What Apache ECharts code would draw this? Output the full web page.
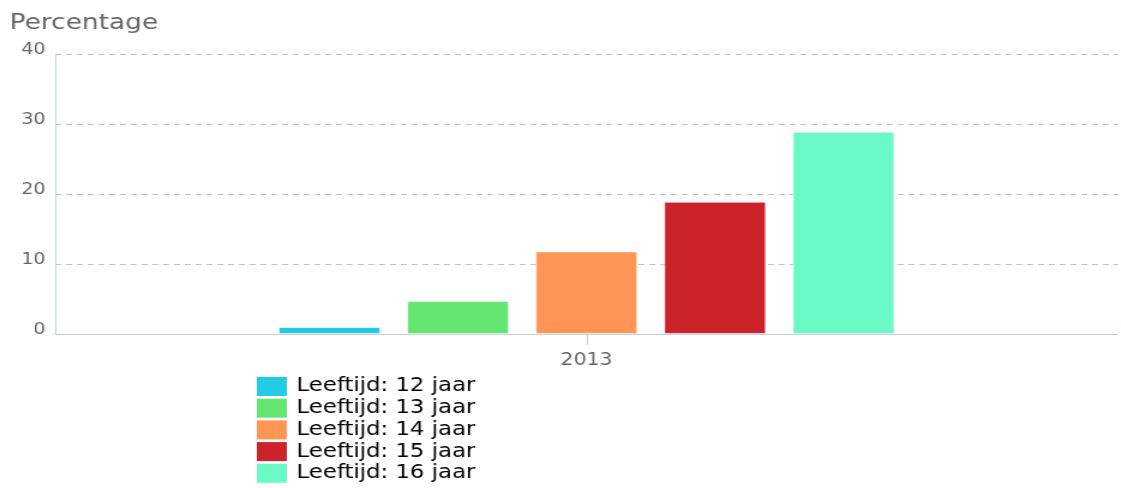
<!DOCTYPE html>
<html><head><meta charset="utf-8">
<script src="https://cdn.jsdelivr.net/npm/echarts@6/dist/echarts.min.js"></script>
<style>
html,body{margin:0;padding:0;background:#fff;overflow:hidden}
#wrap{width:1121px;height:488px;overflow:hidden}
#c{width:934px;height:488px;transform:scaleX(1.2);transform-origin:0 0}
</style>
</head><body><div id="wrap"><div id="c"></div></div>
<script>
const categories = ['2013'];
const seriesNames = ['Leeftijd: 12 jaar','Leeftijd: 13 jaar','Leeftijd: 14 jaar','Leeftijd: 15 jaar','Leeftijd: 16 jaar'];
const age12 = [1.0];
const age13 = [4.7];
const age14 = [11.8];
const age15 = [18.9];
const age16 = [28.9];
const colors = ['#24CBE5','#64E572','#FF9655','#CC2229','#6AF9C4'];
const yTicks = [0,10,20,30,40];

const values = [age12, age13, age14, age15, age16];
const font = 'DejaVu Sans';
const chart = echarts.init(document.getElementById('c'), null, {renderer:'canvas'});
chart.setOption({
  animation:false,
  color: colors,
  title:{text:'Percentage', left:8, top:10, padding:0,
    textStyle:{fontFamily:font, fontSize:22, fontWeight:'normal', color:'#666666', lineHeight:26}},
  grid:{left:46, right:2.5, top:54, bottom:154, containLabel:false},
  legend:{orient:'vertical', left:214, top:377, padding:0, height:120, itemWidth:25, itemHeight:19, itemGap:2.7,
    icon:'rect', textStyle:{fontFamily:font, fontSize:19, color:'#000', lineHeight:19, padding:[0,0,0,3]}, itemStyle:{borderWidth:0}},
  xAxis:{type:'category', data:categories,
    axisLine:{lineStyle:{color:'#C0D0E0', width:1}},
    axisTick:{show:true, alignWithLabel:true, length:11, lineStyle:{color:'#C0D0E0'}},
    axisLabel:{fontFamily:font, fontSize:17, color:'#666666', margin:18, lineHeight:17}},
  yAxis:{type:'value', min:yTicks[0], max:yTicks[yTicks.length-1], interval:10,
    axisLine:{show:true, lineStyle:{color:'#C0D0E0', width:1}},
    axisTick:{show:false},
    splitLine:{lineStyle:{color:'#C0C0C0', type:[5,4], width:1}},
    axisLabel:{fontFamily:font, fontSize:16, color:'#666666', margin:8, verticalAlign:'bottom', lineHeight:9}},
  series: seriesNames.map((n,i)=>({name:n, type:'bar', data:values[i], barWidth:85, barGap:'26%',
    itemStyle:{color:colors[i], borderColor:'rgba(255,255,255,0.6)', borderWidth:1}}))
});
</script></body></html>
